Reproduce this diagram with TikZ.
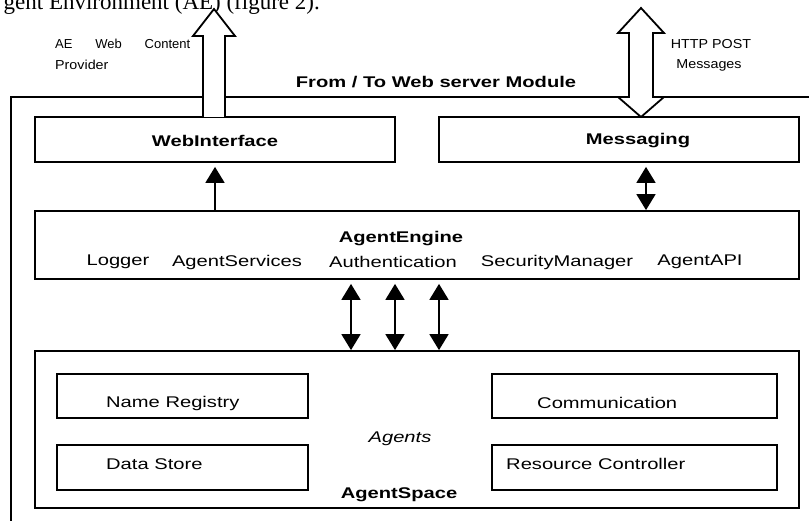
\documentclass[tikz,border=0pt]{standalone}
\usepackage{fontspec}
\setmainfont{Liberation Sans}
\newfontfamily\serifx{Liberation Serif}
\usetikzlibrary{arrows.meta}
\newcommand{\wid}[1]{\scalebox{1.3}[1]{#1}}
\newcommand{\swid}[1]{\scalebox{1.1}[1]{#1}}
\begin{document}
\begin{tikzpicture}[x=1pt,y=-1pt,
  box/.style={draw=black,line width=1.8pt,rectangle,inner sep=0pt},
  lbl/.style={inner sep=0pt,font=\fontsize{15.5}{17}\selectfont},
  blbl/.style={inner sep=0pt,font=\fontsize{15.5}{17}\selectfont\bfseries},
  small/.style={inner sep=0pt,font=\fontsize{13}{15}\selectfont},
  conn/.style={line width=1.8pt,-{Triangle[width=19pt,length=16pt]}},
  dconn/.style={line width=1.8pt,{Triangle[width=19pt,length=16pt]}-{Triangle[width=19pt,length=16pt]}},
  fatarrow/.style={draw=black,fill=white,line width=1.8pt,line join=miter}
]
\useasboundingbox (0,0) rectangle (809,521);
% clipped text from surrounding page
\node[inner sep=0pt,anchor=base east,font=\serifx\fontsize{23}{25}\selectfont] (pagetext) at (320,10) {gent Environment (AE) (figure 2).};
% outer frame
\coordinate (fA) at (11,521);
\coordinate (fB) at (11,97);
\coordinate (fC) at (812,97);
\draw[line width=1.8pt] (fA) -- (fB) -- (fC);
% boxes
\node[box,minimum width=360pt,minimum height=45pt] (web) at (215,139.5) {};
\node[box,minimum width=360pt,minimum height=45pt] (msg) at (619,139.5) {};
\node[box,minimum width=764pt,minimum height=68pt] (eng) at (417,245) {};
\node[box,minimum width=764pt,minimum height=157pt] (space) at (417,429.5) {};
\node[box,minimum width=251pt,minimum height=44pt] (nr) at (182.5,396) {};
\node[box,minimum width=251pt,minimum height=45pt] (ds) at (182.5,467.5) {};
\node[box,minimum width=285pt,minimum height=44pt] (comm) at (634.5,396) {};
\node[box,minimum width=285pt,minimum height=45pt] (rc) at (634.5,467.5) {};
% texts
\node[blbl] (tweb) at (215,141) {\wid{WebInterface}};
\node[blbl] (tmsg) at (638,141) {\wid{Messaging}};
\node[blbl] (tmod) at (436,82) {\wid{From / To Web server Module}};
\node[blbl] (teng) at (401,239) {\wid{AgentEngine}};
\node[lbl] (t1) at (118,262) {\wid{Logger}};
\node[lbl] (t2) at (237,262) {\wid{AgentServices}};
\node[lbl] (t3) at (393,262) {\wid{Authentication}};
\node[lbl] (t4) at (557,262) {\wid{SecurityManager}};
\node[lbl] (t5) at (700,262) {\wid{AgentAPI}};
\node[lbl,anchor=west] (tnr) at (106,403) {\wid{Name Registry}};
\node[lbl,anchor=west] (tds) at (106,464) {\wid{Data Store}};
\node[lbl,anchor=west] (tcomm) at (537,403) {\wid{Communication}};
\node[lbl,anchor=west] (trc) at (506,464) {\wid{Resource Controller}};
\node[lbl,font=\fontsize{15.5}{17}\selectfont\itshape] (tag) at (400,439) {\wid{Agents}};
\node[blbl] (tsp) at (399,495) {\wid{AgentSpace}};
\node[small,anchor=west] (tae) at (55,44) {\makebox[135pt][s]{AE Web Content}};
\node[small,anchor=west] (tae2) at (55,65) {\swid{Provider}};
\node[small] (thttp) at (711,44) {\swid{HTTP POST}};
\node[small] (thttp2) at (709,65) {\swid{Messages}};
% fat arrows
\draw[fatarrow] (203,117) -- (203,36) -- (193,36) -- (214,9) -- (235,36) -- (225,36) -- (225,117);
\draw[fatarrow] (641,117) -- (618,97) -- (629,97) -- (629,33) -- (618,33) -- (641,8) -- (664,33) -- (653,33) -- (653,97) -- (664,97) -- cycle;
% connectors
\draw[conn,shorten >=4pt] (eng.north -| web.south) coordinate (a1) -- (web.south -| a1);
\draw[dconn,shorten <=4pt] (msg.south -| 646,0) -- (eng.north -| 646,0);
\foreach \xx in {351,395,439}{
  \draw[dconn,shorten <=4pt] (eng.south -| \xx,0) -- (space.north -| \xx,0);
}
\end{tikzpicture}
\end{document}
